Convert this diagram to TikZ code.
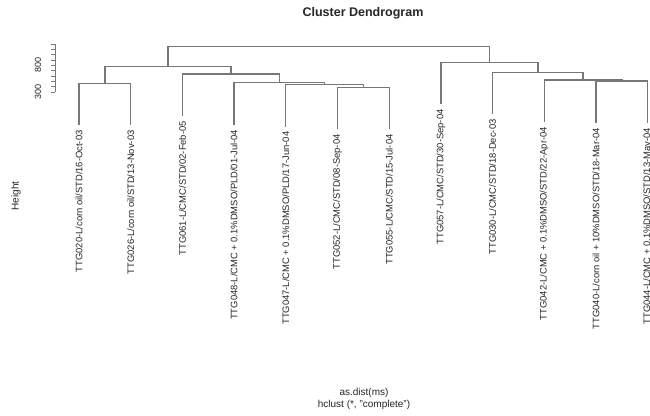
\documentclass[tikz,border=0pt]{standalone}
\usepackage{fontspec}
\setmainfont{Liberation Sans}
\definecolor{linkgray}{HTML}{777777}
\definecolor{txt}{HTML}{262626}
\begin{document}
\begin{tikzpicture}[x=1pt,y=-1pt,
  link/.style={draw=linkgray, line width=1.3pt},
  leaflab/.style={rotate=90, anchor=east, inner sep=0pt, text=txt,
    font=\fontsize{9.4}{10}\selectfont},
  ticklab/.style={rotate=90, inner sep=0pt, text=txt,
    font=\fontsize{9}{10}\selectfont},
  axislab/.style={inner sep=0pt, text=txt, font=\fontsize{10}{11}\selectfont}]
\useasboundingbox (0,0) rectangle (650,415);
\fill[white] (0,0) rectangle (650,415);

% title and axis titles
\node[inner sep=0pt, text=txt, font=\fontsize{12.5}{14}\bfseries] (title) at (363,13) {Cluster Dendrogram};
\node[axislab, rotate=90] (ylab) at (16,196) {Height};
\node[axislab] (xlab) at (364,393) {as.dist(ms)};
\node[axislab] (sub) at (364,404.5) {hclust (*, "complete")};

% height axis
\coordinate (ax0) at (55,92);
\coordinate (ax1) at (55,44);
\draw[linkgray, line width=0.9pt] (ax0) -- (ax1);
\foreach \i in {0,...,9}
  \draw[linkgray, line width=0.9pt] (55,{92-\i*48/9}) -- (51,{92-\i*48/9});
\node[ticklab] (t300) at (38,92) {300};
\node[ticklab] (t800) at (38,65.3) {800};

% merge points (centre x, height)
\coordinate (mA) at (104.85,83.3);
\coordinate (mB) at (363.35,87.3);
\coordinate (mC) at (324.6,84.5);
\coordinate (mD) at (279.3,82.7);
\coordinate (mE) at (230.9,74);
\coordinate (mF) at (167.9,66.5);
\coordinate (mG) at (621.9,81);
\coordinate (mH) at (583.1,80);
\coordinate (mI) at (537.9,72.3);
\coordinate (mJ) at (489.4,62.3);
\coordinate (mK) at (328.6,46.5);

% leaf tips
\coordinate (t1) at (79,125.3);
\coordinate (t2) at (130.7,125.3);
\coordinate (t3) at (182.4,116);
\coordinate (t4) at (234.1,124.7);
\coordinate (t5) at (285.8,126.5);
\coordinate (t6) at (337.5,129.3);
\coordinate (t7) at (389.2,129.3);
\coordinate (t8) at (440.9,104.3);
\coordinate (t9) at (492.6,114.3);
\coordinate (t10) at (544.3,122);
\coordinate (t11) at (596,123);
\coordinate (t12) at (647.7,123);

% leaf labels
\node[leaflab] (n1) at ([yshift=-5pt]t1) {TTG020-L/corn oil/STD/16-Oct-03};
\node[leaflab] (n2) at ([yshift=-5pt]t2) {TTG026-L/corn oil/STD/13-Nov-03};
\node[leaflab] (n3) at ([yshift=-5pt]t3) {TTG061-L/CMC/STD/02-Feb-05};
\node[leaflab] (n4) at ([yshift=-5pt]t4) {TTG048-L/CMC + 0.1\%DMSO/PLD/01-Jul-04};
\node[leaflab] (n5) at ([yshift=-5pt]t5) {TTG047-L/CMC + 0.1\%DMSO/PLD/17-Jun-04};
\node[leaflab] (n6) at ([yshift=-5pt]t6) {TTG052-L/CMC/STD/08-Sep-04};
\node[leaflab] (n7) at ([yshift=-5pt]t7) {TTG055-L/CMC/STD/15-Jul-04};
\node[leaflab] (n8) at ([yshift=-5pt]t8) {TTG057-L/CMC/STD/30-Sep-04};
\node[leaflab] (n9) at ([yshift=-5pt]t9) {TTG030-L/CMC/STD/18-Dec-03};
\node[leaflab] (n10) at ([yshift=-5pt]t10) {TTG042-L/CMC + 0.1\%DMSO/STD/22-Apr-04};
\node[leaflab] (n11) at ([yshift=-5pt]t11) {TTG040-L/corn oil + 10\%DMSO/STD/18-Mar-04};
\node[leaflab] (n12) at ([yshift=-5pt]t12) {TTG044-L/CMC + 0.1\%DMSO/STD/13-May-04};

% dendrogram links
\draw[link] (t1) |- (mA) -| (t2);
\draw[link] (t6) |- (mB) -| (t7);
\draw[link] (t5) |- (mC) -| (mB);
\draw[link] (t4) |- (mD) -| (mC);
\draw[link] (t3) |- (mE) -| (mD);
\draw[link] (mA) |- (mF) -| (mE);
\draw[link] (t11) |- (mG) -| (t12);
\draw[link] (t10) |- (mH) -| (mG);
\draw[link] (t9) |- (mI) -| (mH);
\draw[link] (t8) |- (mJ) -| (mI);
\draw[link] (mF) |- (mK) -| (mJ);
\end{tikzpicture}
\end{document}
